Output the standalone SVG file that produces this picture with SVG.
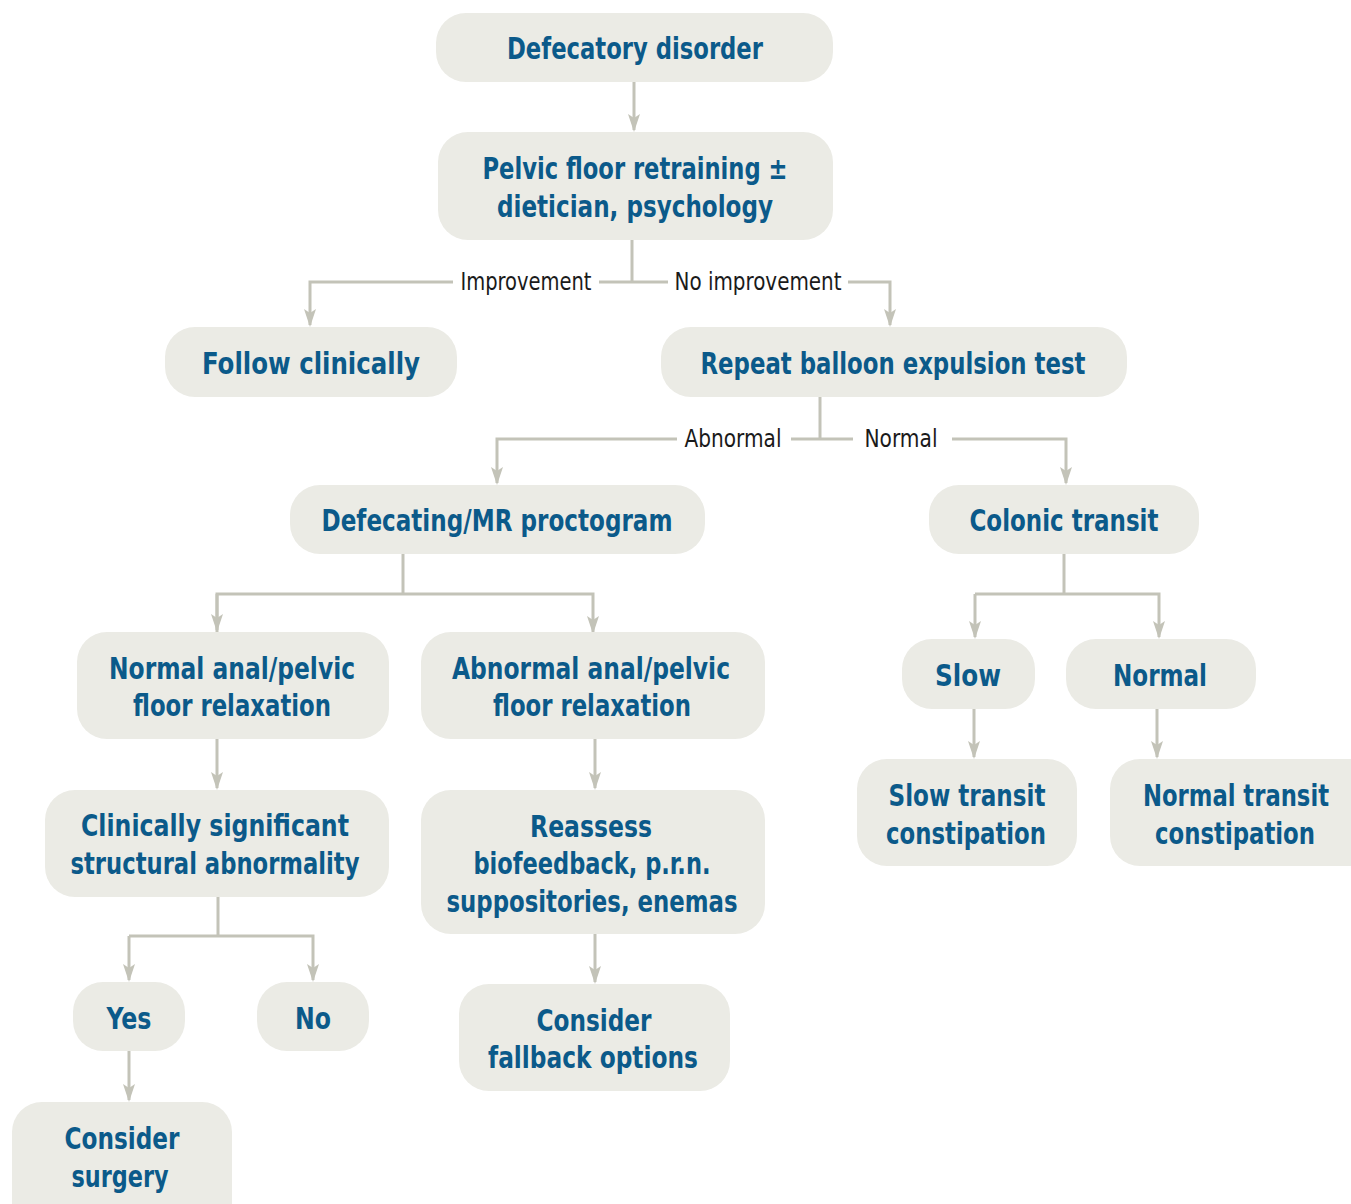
<svg xmlns="http://www.w3.org/2000/svg" width="1351" height="1204" viewBox="0 0 1351 1204">
<defs>
<style>
.box{fill:#ebebe5;}
.t{font-family:"Liberation Sans Narrow","DejaVu Sans Condensed","Roboto",sans-serif;font-stretch:condensed;font-weight:bold;font-size:30px;fill:#0b5a8a;text-anchor:middle;}
.lab{font-family:"Liberation Sans Narrow","DejaVu Sans Condensed","Roboto",sans-serif;font-stretch:condensed;font-size:24px;fill:#1a1a1a;text-anchor:middle;}
.c{stroke:#c3c3b8;stroke-width:3;fill:none;}
</style>
<marker id="ah" markerUnits="userSpaceOnUse" markerWidth="20" markerHeight="14" refX="16" refY="6" orient="auto">
<path d="M0,0 L18,6 L0,12 L4,6 z" fill="#c3c3b8"/>
</marker>
</defs>
<rect width="1351" height="1204" fill="#ffffff"/>
<g id="connectors">
<line class="c" x1="634" y1="82" x2="634" y2="130" marker-end="url(#ah)"/>
<line class="c" x1="632" y1="240" x2="632" y2="282"/>
<polyline class="c" points="453,282 310,282 310,325" marker-end="url(#ah)"/>
<line class="c" x1="599" y1="282" x2="668" y2="282"/>
<polyline class="c" points="848,282 890,282 890,325" marker-end="url(#ah)"/>
<line class="c" x1="820" y1="397" x2="820" y2="439"/>
<polyline class="c" points="677,439 497,439 497,483" marker-end="url(#ah)"/>
<line class="c" x1="791" y1="439" x2="853" y2="439"/>
<polyline class="c" points="952,439 1066,439 1066,483" marker-end="url(#ah)"/>
<line class="c" x1="403" y1="554" x2="403" y2="594"/>
<polyline class="c" points="217,632 217,594 593,594 593,632" marker-end="url(#ah)"/>
<line class="c" x1="217" y1="594" x2="217" y2="630" marker-end="url(#ah)"/>
<line class="c" x1="1064" y1="554" x2="1064" y2="594"/>
<polyline class="c" points="975,594 1159,594 1159,637" marker-end="url(#ah)"/>
<line class="c" x1="975" y1="594" x2="975" y2="637" marker-end="url(#ah)"/>
<line class="c" x1="217" y1="739" x2="217" y2="788" marker-end="url(#ah)"/>
<line class="c" x1="595" y1="739" x2="595" y2="788" marker-end="url(#ah)"/>
<line class="c" x1="974" y1="709" x2="974" y2="757" marker-end="url(#ah)"/>
<line class="c" x1="1157" y1="709" x2="1157" y2="757" marker-end="url(#ah)"/>
<line class="c" x1="218" y1="897" x2="218" y2="936"/>
<polyline class="c" points="129,936 313,936 313,980" marker-end="url(#ah)"/>
<line class="c" x1="129" y1="936" x2="129" y2="980" marker-end="url(#ah)"/>
<line class="c" x1="595" y1="934" x2="595" y2="982" marker-end="url(#ah)"/>
<line class="c" x1="129" y1="1051" x2="129" y2="1100" marker-end="url(#ah)"/>
<text class="lab" x="526" y="290" textLength="131" lengthAdjust="spacingAndGlyphs">Improvement</text>
<text class="lab" x="758" y="290" textLength="167" lengthAdjust="spacingAndGlyphs">No improvement</text>
<text class="lab" x="733" y="447" textLength="97" lengthAdjust="spacingAndGlyphs">Abnormal</text>
<text class="lab" x="901" y="447" textLength="73" lengthAdjust="spacingAndGlyphs">Normal</text>
</g>
<g id="n1"><rect class="box" x="436" y="13" width="397" height="69" rx="30"/>
<text class="t" x="635" y="59" textLength="256" lengthAdjust="spacingAndGlyphs">Defecatory disorder</text></g>
<g id="n2"><rect class="box" x="438" y="132" width="395" height="108" rx="30"/>
<text class="t" x="635" y="179" textLength="305" lengthAdjust="spacingAndGlyphs">Pelvic floor retraining ±</text>
<text class="t" x="635" y="217" textLength="276" lengthAdjust="spacingAndGlyphs">dietician, psychology</text></g>
<g id="n3"><rect class="box" x="165" y="327" width="292" height="70" rx="30"/>
<text class="t" x="311" y="374" textLength="218" lengthAdjust="spacingAndGlyphs">Follow clinically</text></g>
<g id="n4"><rect class="box" x="661" y="327" width="466" height="70" rx="30"/>
<text class="t" x="893" y="374" textLength="385" lengthAdjust="spacingAndGlyphs">Repeat balloon expulsion test</text></g>
<g id="n5"><rect class="box" x="290" y="485" width="415" height="69" rx="30"/>
<text class="t" x="497" y="531" textLength="351" lengthAdjust="spacingAndGlyphs">Defecating/MR proctogram</text></g>
<g id="n6"><rect class="box" x="929" y="485" width="270" height="69" rx="30"/>
<text class="t" x="1064" y="531" textLength="189" lengthAdjust="spacingAndGlyphs">Colonic transit</text></g>
<g id="n7"><rect class="box" x="77" y="632" width="312" height="107" rx="30"/>
<text class="t" x="232" y="679" textLength="246" lengthAdjust="spacingAndGlyphs">Normal anal/pelvic</text>
<text class="t" x="232" y="716" textLength="198" lengthAdjust="spacingAndGlyphs">floor relaxation</text></g>
<g id="n8"><rect class="box" x="421" y="632" width="344" height="107" rx="30"/>
<text class="t" x="591" y="679" textLength="278" lengthAdjust="spacingAndGlyphs">Abnormal anal/pelvic</text>
<text class="t" x="592" y="716" textLength="198" lengthAdjust="spacingAndGlyphs">floor relaxation</text></g>
<g id="n9"><rect class="box" x="902" y="639" width="133" height="70" rx="30"/>
<text class="t" x="968" y="686" textLength="66" lengthAdjust="spacingAndGlyphs">Slow</text></g>
<g id="n10"><rect class="box" x="1066" y="639" width="190" height="70" rx="30"/>
<text class="t" x="1160" y="686" textLength="94" lengthAdjust="spacingAndGlyphs">Normal</text></g>
<g id="n11"><rect class="box" x="857" y="759" width="220" height="107" rx="30"/>
<text class="t" x="967" y="806" textLength="157" lengthAdjust="spacingAndGlyphs">Slow transit</text>
<text class="t" x="966" y="844" textLength="160" lengthAdjust="spacingAndGlyphs">constipation</text></g>
<g id="n12"><rect class="box" x="1110" y="759" width="270" height="107" rx="30"/>
<text class="t" x="1236" y="806" textLength="186" lengthAdjust="spacingAndGlyphs">Normal transit</text>
<text class="t" x="1235" y="844" textLength="160" lengthAdjust="spacingAndGlyphs">constipation</text></g>
<g id="n13"><rect class="box" x="45" y="790" width="344" height="107" rx="30"/>
<text class="t" x="215" y="836" textLength="268" lengthAdjust="spacingAndGlyphs">Clinically significant</text>
<text class="t" x="215" y="874" textLength="289" lengthAdjust="spacingAndGlyphs">structural abnormality</text></g>
<g id="n14"><rect class="box" x="421" y="790" width="344" height="144" rx="30"/>
<text class="t" x="591" y="837" textLength="122" lengthAdjust="spacingAndGlyphs">Reassess</text>
<text class="t" x="592" y="874" textLength="237" lengthAdjust="spacingAndGlyphs">biofeedback, p.r.n.</text>
<text class="t" x="592" y="912" textLength="291" lengthAdjust="spacingAndGlyphs">suppositories, enemas</text></g>
<g id="n15"><rect class="box" x="73" y="982" width="112" height="69" rx="30"/>
<text class="t" x="129" y="1029" textLength="45" lengthAdjust="spacingAndGlyphs">Yes</text></g>
<g id="n16"><rect class="box" x="257" y="982" width="112" height="69" rx="30"/>
<text class="t" x="313" y="1029" textLength="36" lengthAdjust="spacingAndGlyphs">No</text></g>
<g id="n17"><rect class="box" x="459" y="984" width="271" height="107" rx="30"/>
<text class="t" x="594" y="1031" textLength="115" lengthAdjust="spacingAndGlyphs">Consider</text>
<text class="t" x="593" y="1068" textLength="210" lengthAdjust="spacingAndGlyphs">fallback options</text></g>
<g id="n18"><rect class="box" x="12" y="1102" width="220" height="130" rx="30"/>
<text class="t" x="122" y="1149" textLength="115" lengthAdjust="spacingAndGlyphs">Consider</text>
<text class="t" x="120" y="1187" textLength="97" lengthAdjust="spacingAndGlyphs">surgery</text></g>
</svg>
